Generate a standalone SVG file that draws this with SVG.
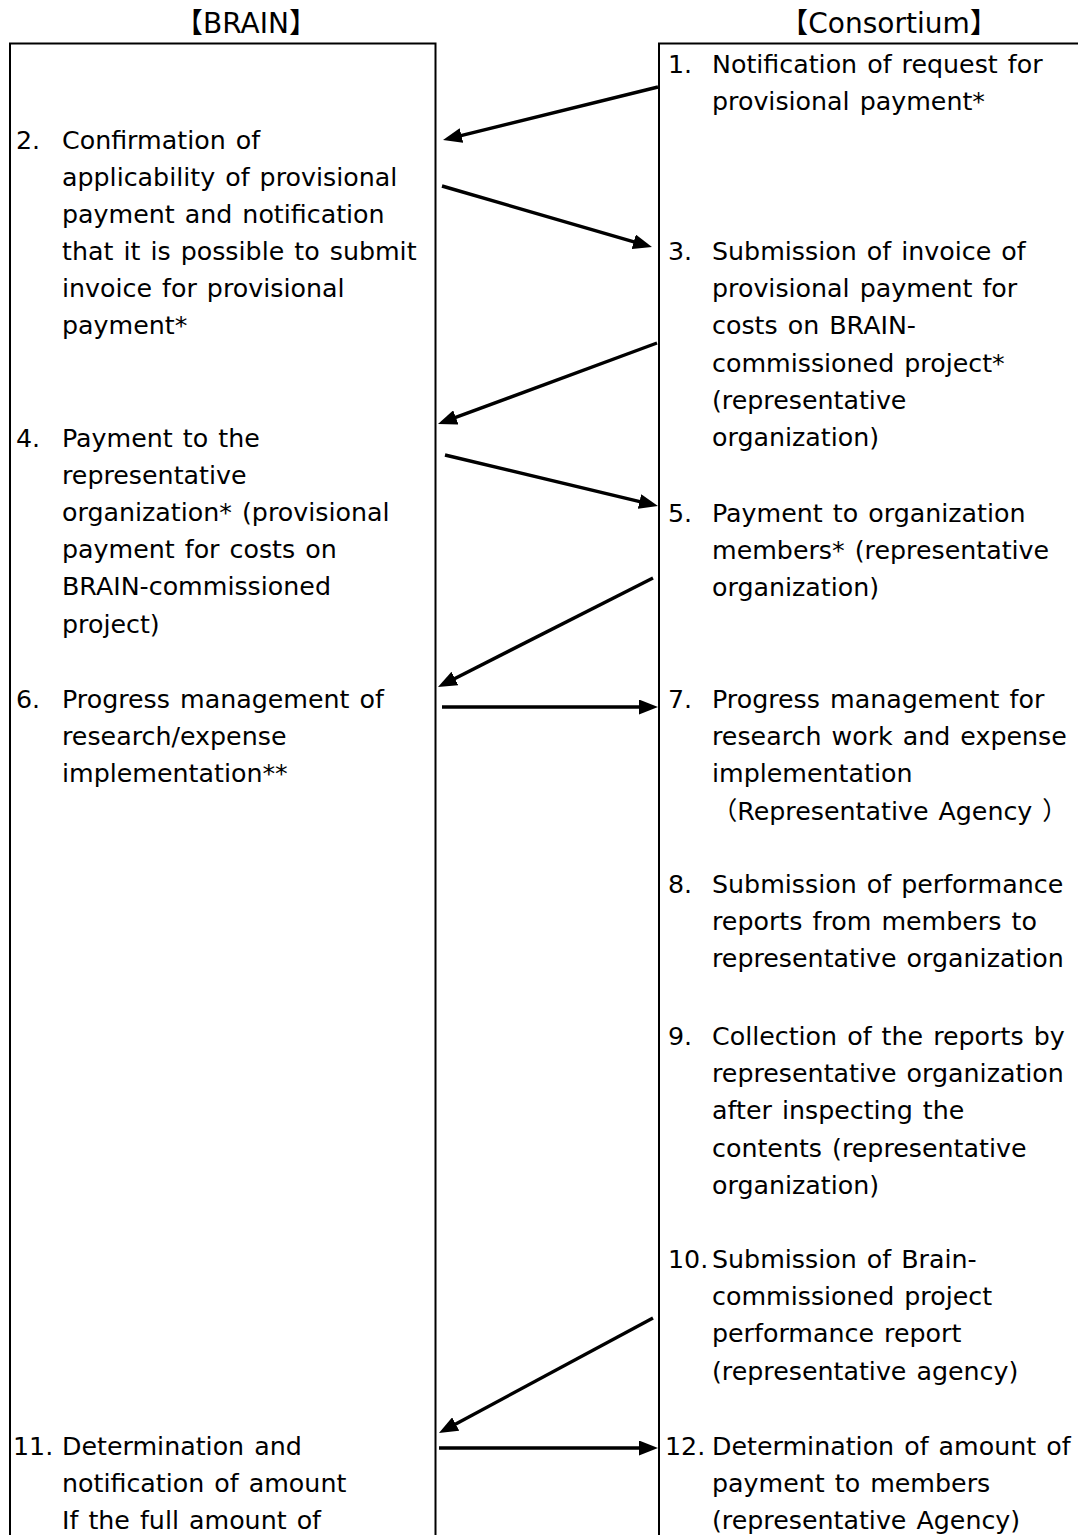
<svg xmlns="http://www.w3.org/2000/svg" width="1078" height="1535" viewBox="0 0 1078 1535">
<style>
.t{font-family:"DejaVu Sans","Noto Sans CJK JP",sans-serif;font-size:25.3px;word-spacing:2px;fill:#000}
.h{font-family:"DejaVu Sans","Noto Sans CJK JP",sans-serif;font-size:28px;fill:#000;text-anchor:middle}
.box{fill:#fff;stroke:#000;stroke-width:2}
.c{fill:none;stroke:#000;stroke-width:3.4}
</style>
<defs>
<marker id="ah" markerUnits="userSpaceOnUse" markerWidth="19" markerHeight="15" viewBox="0 0 19 15" refX="11" refY="7.5" orient="auto">
<path d="M0,0 L19,7.5 L0,15 z" fill="#000"/>
</marker>
</defs>
<rect width="1078" height="1535" fill="#fff"/>
<g id="brain">
<text class="h" x="246" y="33">【BRAIN】</text>
<rect class="box" x="10" y="43.5" width="425.5" height="1520"/>
</g>
<g id="consortium">
<text class="h" x="889" y="33">【Consortium】</text>
<rect class="box" x="659" y="43.5" width="440" height="1520"/>
</g>
<g id="n1">
<text class="t" x="668" y="72.5">1.</text>
<text class="t" x="712" y="72.5">Notification of request for</text>
<text class="t" x="712" y="109.7">provisional payment*</text>
</g>
<g id="n2">
<text class="t" x="16" y="148.5">2.</text>
<text class="t" x="62" y="148.5">Confirmation of</text>
<text class="t" x="62" y="185.5">applicability of provisional</text>
<text class="t" x="62" y="222.7">payment and notification</text>
<text class="t" x="62" y="259.5">that it is possible to submit</text>
<text class="t" x="62" y="296.7">invoice for provisional</text>
<text class="t" x="62" y="333.5">payment*</text>
</g>
<g id="n3">
<text class="t" x="668" y="260">3.</text>
<text class="t" x="712" y="260">Submission of invoice of</text>
<text class="t" x="712" y="297.2">provisional payment for</text>
<text class="t" x="712" y="334.4">costs on BRAIN-</text>
<text class="t" x="712" y="371.6">commissioned project*</text>
<text class="t" x="712" y="408.8">(representative</text>
<text class="t" x="712" y="446">organization)</text>
</g>
<g id="n4">
<text class="t" x="16" y="446.5">4.</text>
<text class="t" x="62" y="446.5">Payment to the</text>
<text class="t" x="62" y="483.7">representative</text>
<text class="t" x="62" y="520.9">organization* (provisional</text>
<text class="t" x="62" y="558.1">payment for costs on</text>
<text class="t" x="62" y="595.3">BRAIN-commissioned</text>
<text class="t" x="62" y="632.5">project)</text>
</g>
<g id="n5">
<text class="t" x="668" y="522">5.</text>
<text class="t" x="712" y="522">Payment to organization</text>
<text class="t" x="712" y="559.2">members* (representative</text>
<text class="t" x="712" y="596.4">organization)</text>
</g>
<g id="n6">
<text class="t" x="16" y="708">6.</text>
<text class="t" x="62" y="708">Progress management of</text>
<text class="t" x="62" y="745.2">research/expense</text>
<text class="t" x="62" y="782.4">implementation**</text>
</g>
<g id="n7">
<text class="t" x="668" y="708">7.</text>
<text class="t" x="712" y="708">Progress management for</text>
<text class="t" x="712" y="745.2">research work and expense</text>
<text class="t" x="712" y="782.4">implementation</text>
<text class="t" x="712" y="819.6">（Representative Agency ）</text>
</g>
<g id="n8">
<text class="t" x="668" y="893">8.</text>
<text class="t" x="712" y="893">Submission of performance</text>
<text class="t" x="712" y="930.2">reports from members to</text>
<text class="t" x="712" y="967.4">representative organization</text>
</g>
<g id="n9">
<text class="t" x="668" y="1045">9.</text>
<text class="t" x="712" y="1045">Collection of the reports by</text>
<text class="t" x="712" y="1082.2">representative organization</text>
<text class="t" x="712" y="1119.4">after inspecting the</text>
<text class="t" x="712" y="1156.6">contents (representative</text>
<text class="t" x="712" y="1193.8">organization)</text>
</g>
<g id="n10">
<text class="t" x="668" y="1268">10.</text>
<text class="t" x="712" y="1268">Submission of Brain-</text>
<text class="t" x="712" y="1305.2">commissioned project</text>
<text class="t" x="712" y="1342.4">performance report</text>
<text class="t" x="712" y="1379.6">(representative agency)</text>
</g>
<g id="n11">
<text class="t" x="13" y="1455">11.</text>
<text class="t" x="62" y="1455">Determination and</text>
<text class="t" x="62" y="1492.2">notification of amount</text>
<text class="t" x="62" y="1529.4">If the full amount of</text>
</g>
<g id="n12">
<text class="t" x="665" y="1455">12.</text>
<text class="t" x="712" y="1455">Determination of amount of</text>
<text class="t" x="712" y="1492.2">payment to members</text>
<text class="t" x="712" y="1529.4">(representative Agency)</text>
</g>
<g id="connectors">
<path class="c" d="M658,87 L450.8,138.1" marker-end="url(#ah)"/>
<path class="c" d="M442,186 L644.3,244.8" marker-end="url(#ah)"/>
<path class="c" d="M657,343 L445.5,421.2" marker-end="url(#ah)"/>
<path class="c" d="M445,455 L650.2,504.1" marker-end="url(#ah)"/>
<path class="c" d="M653,578 L445.1,683.4" marker-end="url(#ah)"/>
<path class="c" d="M442,707 L650,707" marker-end="url(#ah)"/>
<path class="c" d="M653,1318 L446,1429.2" marker-end="url(#ah)"/>
<path class="c" d="M439,1448 L650,1448" marker-end="url(#ah)"/>
</g>
</svg>
